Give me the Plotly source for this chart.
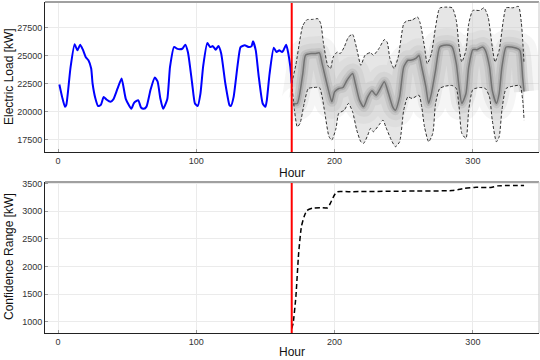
import plotly.graph_objects as go

# ---------------- data ----------------
actual_hours = [1, 3, 5, 6, 9, 12, 14, 16, 18, 20, 22, 24, 25, 27, 29, 31, 33, 35, 38, 40,
                43, 46, 49, 53, 55, 58, 60, 62, 64, 67, 70, 72, 74, 76, 79, 81, 84, 86, 88, 90,
                92, 94, 97, 99, 101, 103, 105, 108, 110, 112, 114, 116, 118, 121, 124, 125, 127,
                130, 132, 135, 138, 140, 141, 143, 145, 148, 150, 151, 153, 156, 158, 160, 162,
                163, 165, 166, 168, 169]
actual_load = [22430, 21300, 20430, 20600, 23900, 26030, 25490, 26000, 25550, 24900, 24600, 23860,
               22520, 21200, 20500, 20600, 21320, 21090, 20880, 21090, 22050, 22960, 21150, 20250,
               20790, 21030, 20370, 20250, 20450, 22000, 23050, 22700, 21180, 20250, 21100, 24000,
               25800, 25640, 25580, 25640, 26000, 25300, 22520, 20730, 20500, 21620, 24100, 26140,
               25780, 25870, 25550, 25870, 25200, 22520, 20580, 20500, 21320, 24300, 25780, 25940,
               25780, 25870, 26300, 25490, 23300, 20730, 20430, 21030, 23410, 25720, 25340, 25490,
               25340, 25490, 26000, 25550, 24000, 22520]

upper_hours = [169, 172, 175, 177, 180, 184, 188, 190, 192, 195, 197, 199, 202, 204, 207, 210, 213,
               216, 219, 222, 226, 228, 232, 236, 238, 240, 243, 246, 250, 252, 256, 260, 262, 265,
               267, 270, 273, 276, 280, 285, 288, 290, 292, 295, 297, 300, 305, 308, 311, 314, 316,
               319, 322, 324, 329, 333, 335, 336, 337]
upper_load = [22520, 24200, 26500, 27700, 28230, 28260, 28320, 27880, 26090, 24150, 23860, 24890,
              25340, 25200, 25790, 26680, 26920, 25640, 24150, 25050, 25290, 25050, 25640, 26450,
              26230, 24750, 23860, 24890, 27880, 28110, 28200, 28470, 27880, 25790, 24300, 25200,
              27570, 29270, 29360, 29300, 28170, 25790, 24450, 25500, 27880, 29060, 29060, 29300,
              28470, 25790, 24450, 25500, 28170, 29300, 29300, 29420, 28000, 26400, 24300]

lower_hours = [169, 171, 173, 175, 178, 181, 185, 189, 191, 193, 196, 198, 201, 203, 207, 210, 213,
               216, 219, 221, 224, 226, 228, 232, 235, 237, 241, 244, 247, 250, 253, 256, 261, 263,
               265, 268, 271, 273, 276, 280, 285, 288, 290, 292, 295, 297, 300, 305, 309, 312, 314,
               317, 319, 321, 324, 329, 334, 336, 337]
lower_load = [22520, 20130, 18640, 18940, 20730, 22070, 22160, 22160, 21320, 19840, 17750, 17460,
              18500, 19840, 20130, 20730, 19990, 18350, 17300, 17160, 17900, 18500, 18200, 18790,
              19240, 18640, 17460, 16860, 17300, 20130, 21320, 21180, 21470, 20430, 18640, 17300,
              18050, 20730, 22070, 22280, 22340, 22070, 20430, 18050, 17600, 20130, 21980, 22160,
              22070, 21320, 19240, 17300, 17750, 20130, 22070, 22280, 22340, 21030, 19240]

mean_hours = [170, 173, 177, 179, 183, 186, 189, 191, 195, 198, 200, 203, 206, 209, 213, 215, 218,
              221, 224, 227, 230, 233, 236, 239, 242, 244, 247, 250, 253, 255, 259, 261, 263, 266,
              268, 270, 273, 276, 279, 283, 285, 288, 290, 292, 295, 297, 300, 303, 307, 309, 312,
              314, 317, 319, 321, 324, 328, 331, 334, 336, 337]
mean_load = [20730, 20730, 23410, 25050, 25200, 25200, 25260, 24300, 22210, 20880, 21770, 22070,
             22160, 22810, 23410, 22520, 21030, 20430, 21320, 21860, 21470, 22070, 22670, 21620,
             20430, 20130, 21320, 24000, 24600, 24600, 24800, 25050, 24000, 22210, 20730, 21620,
             23700, 25790, 25940, 25940, 25790, 24300, 22210, 20730, 21620, 24000, 25550, 25550,
             25790, 25490, 24000, 21910, 20730, 21620, 24000, 25790, 25790, 25700, 25490, 23000,
             21800]

range_hours = [169, 170, 172, 174, 176, 178, 180, 184, 190, 195, 197, 200, 202, 210, 250, 285, 289,
               294, 301, 313, 318, 337]
range_kw = [880, 970, 1453, 2239, 2721, 2902, 3011, 3054, 3060, 3060, 3145, 3295, 3350, 3350, 3360,
            3370, 3386, 3410, 3428, 3428, 3455, 3464]

forecast_start = 169
x_ticks = [0, 100, 200, 300]
load_ticks = [17500, 20000, 22500, 25000, 27500]
range_ticks = [1000, 1500, 2000, 2500, 3000, 3500]

# ---------------- figure ----------------
W, H = 540, 360
L_PX, R_PX = 45, 539
TOP1, BOT1 = 2, 152
TOP2, BOT2 = 182, 333

def px_x(p):
    return p / W

def px_y(p):
    return 1 - p / H

FONT = "Liberation Sans, Arial, sans-serif"
fig = go.Figure()

SPL = dict(shape="spline", smoothing=0.6)

# --- top panel ---
fig.add_trace(go.Scatter(x=lower_hours, y=lower_load, mode="lines", line=dict(color="rgba(0,0,0,0)", width=0, **SPL),
                         showlegend=False, hoverinfo="skip", xaxis="x", yaxis="y"))
fig.add_trace(go.Scatter(x=upper_hours, y=upper_load, mode="lines", line=dict(color="rgba(0,0,0,0)", width=0, **SPL),
                         fill="tonexty", fillcolor="rgba(205,205,205,0.5)", showlegend=False, hoverinfo="skip",
                         xaxis="x", yaxis="y"))
# scenario density around the mean (styling only)
for w, c in [(34, "rgba(160,160,160,0.10)"), (20, "rgba(150,150,150,0.13)"), (10, "rgba(140,140,140,0.2)"),
             (5, "rgba(130,130,130,0.33)")]:
    fig.add_trace(go.Scatter(x=mean_hours, y=mean_load, mode="lines",
                             line=dict(color=c, width=w, **SPL),
                             showlegend=False, hoverinfo="skip", xaxis="x", yaxis="y"))
fig.add_trace(go.Scatter(x=mean_hours, y=mean_load, mode="lines",
                         line=dict(color="#727272", width=1.5, **SPL),
                         showlegend=False, hoverinfo="skip", xaxis="x", yaxis="y"))
for xs, yy in ((upper_hours, upper_load), (lower_hours, lower_load)):
    fig.add_trace(go.Scatter(x=xs, y=yy, mode="lines",
                             line=dict(color="#303030", width=1, dash="3px,2px", **SPL),
                             showlegend=False, hoverinfo="skip", xaxis="x", yaxis="y"))
fig.add_trace(go.Scatter(x=actual_hours, y=actual_load, mode="lines",
                         line=dict(color="#0000ff", width=2, shape="spline", smoothing=0.5),
                         showlegend=False, hoverinfo="skip", xaxis="x", yaxis="y"))

# --- bottom panel ---
fig.add_trace(go.Scatter(x=range_hours, y=range_kw, mode="lines",
                         line=dict(color="black", width=1.5, dash="5px,3px", shape="spline", smoothing=0.5),
                         showlegend=False, hoverinfo="skip", xaxis="x2", yaxis="y2"))

x_range = [-9.4, 347.8]
common_x = dict(range=x_range, tickvals=x_ticks, showgrid=True, gridcolor="#ebebeb", gridwidth=1,
                zeroline=False, showline=True, linecolor="#222", linewidth=1,
                ticks="inside", ticklen=3, tickcolor="#999", automargin=False,
                tickfont=dict(family=FONT, size=9, color="#333"))
common_y = dict(showgrid=True, gridcolor="#ebebeb", gridwidth=1, zeroline=False, tickformat="d",
                showline=True, linecolor="#222", linewidth=1, ticks="inside", ticklen=3, tickcolor="#999",
                automargin=False, tickfont=dict(family=FONT, size=9, color="#333"))

fig.update_layout(
    width=W, height=H, margin=dict(l=0, r=0, t=0, b=0, autoexpand=False),
    paper_bgcolor="white", plot_bgcolor="white",
    xaxis=dict(domain=[px_x(L_PX), px_x(R_PX)], anchor="y", **common_x),
    yaxis=dict(domain=[px_y(BOT1), px_y(TOP1)], anchor="x", range=[16384, 29820],
               tickvals=load_ticks, **common_y),
    xaxis2=dict(domain=[px_x(L_PX), px_x(R_PX)], anchor="y2", **common_x),
    yaxis2=dict(domain=[px_y(BOT2), px_y(TOP2)], anchor="x2", range=[800, 3525],
                tickvals=range_ticks, **common_y),
)

shapes = []
for xref, yref, top, bot in [("x", "y", TOP1, BOT1), ("x2", "y2", TOP2, BOT2)]:
    shapes.append(dict(type="line", xref=xref, yref=yref + " domain", x0=forecast_start, x1=forecast_start,
                       y0=0, y1=1, line=dict(color="red", width=2)))
    shapes.append(dict(type="line", xref="paper", yref="paper", x0=px_x(L_PX), x1=px_x(R_PX),
                       y0=px_y(top), y1=px_y(top), line=dict(color="#a0a0a0", width=2)))
    shapes.append(dict(type="line", xref="paper", yref="paper", x0=px_x(R_PX), x1=px_x(R_PX),
                       y0=px_y(bot), y1=px_y(top), line=dict(color="#c8c8c8", width=1)))
fig.update_layout(shapes=shapes)

def label(text, xp, yp, angle=0):
    return dict(text=text, x=px_x(xp), y=px_y(yp), xref="paper", yref="paper", showarrow=False,
                xanchor="center", yanchor="middle", textangle=angle,
                font=dict(family=FONT, size=12, color="#111"))

fig.update_layout(annotations=[
    label("Hour", 292, 173),
    label("Hour", 292, 352),
    label("Electric Load [kW]", 9, 77, -90),
    label("Confidence Range [kW]", 9, 257, -90),
])

fig.write_html("out.html", config={"displayModeBar": False},
               post_script="document.body.style.margin='0';document.body.style.padding='0';")
